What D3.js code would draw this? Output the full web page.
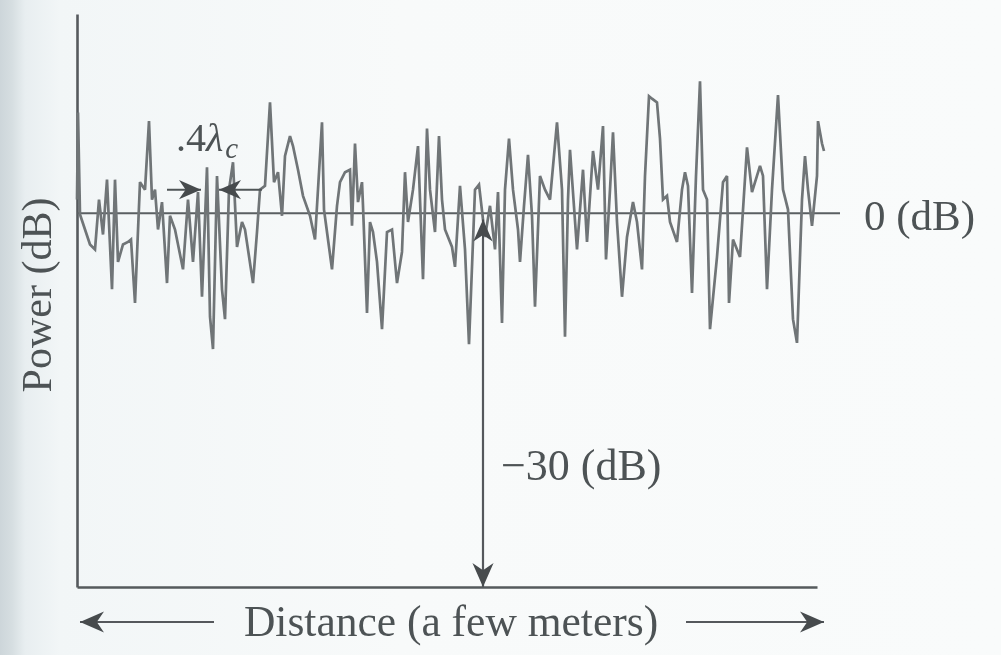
<!DOCTYPE html>
<html>
<head>
<meta charset="utf-8">
<script src="https://cdn.jsdelivr.net/npm/d3@7"></script>
<style>
  html, body { margin: 0; padding: 0; background: #f8fafa; }
  svg { display: block; }
  text { font-family: "Liberation Serif", "DejaVu Serif", serif; fill: #4e5355; }
</style>
</head>
<body>
<svg id="chart"></svg>
<script>
// distance along the route, in cm
const distance = [
  0, 0.5, 1.5, 4, 6.5, 9, 11, 13, 15, 17.5, 19, 20.5, 23, 25.5, 27, 29, 31.5, 34, 36, 37.5,
  39, 40.5, 42.5, 45, 46.5, 49, 53, 55.5, 58, 60.5, 62.5, 65, 66.5, 68, 70, 72.5, 74, 76, 78, 80,
  82.5, 84, 88, 90, 91.5, 94, 96.5, 98.5, 100.5, 102.5, 104, 106.5, 108, 110.5, 113, 116.5, 119, 122.5, 123.5, 127.5,
  130, 131.5, 134, 136.5, 137.5, 139, 140.5, 142.5, 143, 145, 146.5, 148, 150, 152.5, 155, 157.5, 160, 162.5, 164, 165.5,
  168, 170.5, 173, 175, 176.5, 179, 181, 182.5, 184, 185.5, 187.5, 189, 191.5, 194, 196, 199, 201, 204, 206.5, 209,
  210.5, 212.5, 214, 216, 218, 220.5, 221.5, 223.5, 225.5, 227.5, 229, 231.5, 234, 236.5, 240, 242.5, 244, 245.5, 246.5, 250,
  253, 255, 258, 260.5, 263, 264.5, 266.5, 268, 270, 272.5, 275, 278, 280, 282.5, 284, 286, 287.5, 290, 291.5, 293,
  295, 296.5, 300, 302.5, 304, 305.5, 307.5, 309.5, 311.5, 313, 315, 316.5, 320, 323, 325, 326, 328, 331.5, 335, 337.5,
  341.5, 343, 345, 347.5, 350.5, 353, 355.5, 358, 360, 362.5, 364, 365.5, 367.5, 370, 370.5, 372.5, 373.5
];

// received power relative to the mean, in dB
const powerDb = [
  1.1, 8.1, -0.1, -1.3, -2.5, -2.9, 1.1, -1.7, 2.7, -6.1, 2.7, -3.9, -2.5, -2.3, -2.1, -7.2, 2.5, 1.9, 7.4, 1.1,
  1.9, -1.3, 0.9, -5.6, -0.2, -1.3, -4.5, 1.1, -3.9, 1.7, -6.7, 3.7, -8.3, -10.9, 3.0, -6.1, -8.5, 1.9, 4.1, -2.7,
  -0.7, -1.3, -5.6, -1.5, 1.9, 2.2, 8.9, 2.5, 3.3, -0.2, 4.6, 6.2, 5.4, 3.5, 1.4, -0.2, -2.1, 7.3, 0.3, -4.5,
  0.6, 2.5, 3.3, 3.5, -1.0, 5.6, 0.9, 2.5, 0.6, -8.0, -0.7, -1.5, -3.9, -9.3, -1.5, -1.3, -5.6, -3.1, 3.3, -0.7,
  1.9, 5.4, -5.3, 6.8, 1.9, -1.5, 6.2, 1.1, -1.3, -1.9, -2.7, -4.3, 2.2, -2.9, -10.5, 1.9, 2.3, -1.9, 0.6, -2.9,
  1.7, -8.8, 1.9, 6.0, 1.9, -1.3, -3.9, 0.6, 4.7, -0.2, -7.5, 3.0, 1.9, 1.1, 7.3, 1.9, -9.9, 1.1, 5.1, -2.9,
  3.5, -2.3, 5.0, 1.9, 7.0, -3.7, 1.9, 6.5, -0.7, -6.7, -1.9, 0.9, -0.7, -4.5, 3.0, 9.4, 9.2, 8.9, 6.0, 1.1,
  1.4, -0.7, -2.3, 1.9, 3.3, 2.2, -6.4, 3.0, 10.6, 1.9, 1.1, -9.3, -3.5, 2.5, 3.0, -7.2, -2.1, -3.5, 5.3, 1.7,
  3.8, 3.0, -6.1, 1.9, 9.5, 1.9, 0.3, -8.5, -10.4, 1.1, 4.6, 1.9, -1.0, 3.0, 7.4, 5.6, 5.0
];

const xDomain = [0, 370];      // x axis extent, cm
const yDomain = [-30, 16];     // y axis extent, dB
const zeroLineEnd = 381.5;     // where the 0 dB reference line stops
const spacingMarks = [45, 62, 71, 92.5];  // .4 lambda_c indicator (cm)
const spacingLevel = 1.9;      // dB
const fadeAt = 203;            // position of the -30 dB arrow (cm)

const W = 1001, H = 655;
const margin = { top: 14, right: 184, bottom: 68, left: 77 };

const svg = d3.select("#chart").attr("width", W).attr("height", H);

// page background with the shaded gutter at the left
const defs = svg.append("defs");
const grad = defs.append("linearGradient").attr("id", "page").attr("x1", 0).attr("x2", 1);
[[0, "#cdd6da"], [0.012, "#d6dee1"], [0.025, "#e8eef0"], [0.06, "#f2f6f7"], [0.4, "#f8fafa"], [1, "#f9fbfb"]]
  .forEach(([o, c]) => grad.append("stop").attr("offset", o).attr("stop-color", c));
defs.append("filter").attr("id", "soft").append("feGaussianBlur").attr("stdDeviation", 0.5);

function arrowMarker(id, size) {
  defs.append("marker")
    .attr("id", id)
    .attr("viewBox", "0 -5 10 10")
    .attr("refX", 10).attr("refY", 0)
    .attr("markerUnits", "userSpaceOnUse")
    .attr("markerWidth", size).attr("markerHeight", size)
    .attr("orient", "auto")
    .append("path").attr("d", "M0,-4.4L10,0L0,4.4L3,0Z").attr("fill", "#464b4e");
}
arrowMarker("head", 24);
arrowMarker("headSmall", 22);

svg.append("rect").attr("width", W).attr("height", H).attr("fill", "url(#page)");

const x = d3.scaleLinear().domain(xDomain).range([margin.left, W - margin.right]);
const y = d3.scaleLinear().domain(yDomain).range([H - margin.bottom, margin.top]);

const g = svg.append("g").attr("filter", "url(#soft)");

// axes: plain lines only, no ticks
g.append("g")
  .attr("transform", `translate(0,${y(yDomain[0])})`)
  .call(d3.axisBottom(x).ticks(0).tickSize(0).tickSizeOuter(0))
  .call(a => a.select(".domain").attr("stroke", "#555a5d").attr("stroke-width", 2.4));

g.append("g")
  .attr("transform", `translate(${x(0)},0)`)
  .call(d3.axisLeft(y).ticks(0).tickSize(0).tickSizeOuter(0))
  .call(a => a.select(".domain").attr("stroke", "#555a5d").attr("stroke-width", 2.6));

// 0 dB reference
g.append("line")
  .attr("x1", x(0)).attr("x2", x(zeroLineEnd))
  .attr("y1", y(0)).attr("y2", y(0))
  .attr("stroke", "#5a5f62").attr("stroke-width", 2);

// fading signal
const points = distance.map((d, i) => ({ d, p: powerDb[i] }));
const line = d3.line().x(d => x(d.d)).y(d => y(d.p));

g.append("path")
  .datum(points)
  .attr("d", line)
  .attr("fill", "none")
  .attr("stroke", "#6f7477")
  .attr("stroke-width", 2.7)
  .attr("stroke-linejoin", "miter")
  .attr("stroke-miterlimit", 3);

// -30 dB depth arrow (double headed)
g.append("line")
  .attr("x1", x(fadeAt)).attr("x2", x(fadeAt))
  .attr("y1", y(-2.4)).attr("y2", y(-0.5))
  .attr("stroke", "#4a4f52").attr("stroke-width", 2)
  .attr("marker-end", "url(#headSmall)");
g.append("line")
  .attr("x1", x(fadeAt)).attr("x2", x(fadeAt))
  .attr("y1", y(-2)).attr("y2", y(yDomain[0]))
  .attr("stroke", "#55595c").attr("stroke-width", 2.2)
  .attr("marker-end", "url(#head)");

// .4 lambda_c spacing indicator
g.append("line")
  .attr("x1", x(spacingMarks[0])).attr("x2", x(spacingMarks[1]))
  .attr("y1", y(spacingLevel)).attr("y2", y(spacingLevel))
  .attr("stroke", "#4f5457").attr("stroke-width", 2)
  .attr("marker-end", "url(#headSmall)");
g.append("line")
  .attr("x1", x(spacingMarks[3])).attr("x2", x(spacingMarks[2]))
  .attr("y1", y(spacingLevel)).attr("y2", y(spacingLevel))
  .attr("stroke", "#4f5457").attr("stroke-width", 2)
  .attr("marker-end", "url(#headSmall)");

// labels
const lab = svg.append("g").attr("filter", "url(#soft)");

const lam = lab.append("text")
  .attr("x", 176).attr("y", 151)
  .attr("font-size", 40);
lam.append("tspan").text(".4");
lam.append("tspan").attr("font-style", "italic").text("λ");
lam.append("tspan").attr("font-style", "italic").attr("font-size", 29).attr("dy", 7).attr("dx", 2).text("c");

lab.append("text")
  .attr("x", 864).attr("y", 230)
  .attr("font-size", 43)
  .text("0 (dB)");

lab.append("text")
  .attr("x", 501).attr("y", 480)
  .attr("font-size", 44)
  .text("\u221230 (dB)");

lab.append("text")
  .attr("transform", "translate(51,295) rotate(-90)")
  .attr("text-anchor", "middle")
  .attr("font-size", 42)
  .text("Power (dB)");

lab.append("text")
  .attr("x", 451).attr("y", 636)
  .attr("text-anchor", "middle")
  .attr("font-size", 43.5)
  .text("Distance (a few meters)");

// direction arrows under the axis title
lab.append("line")
  .attr("x1", 214).attr("x2", 80).attr("y1", 622).attr("y2", 622)
  .attr("stroke", "#55595c").attr("stroke-width", 2)
  .attr("marker-end", "url(#head)");
lab.append("line")
  .attr("x1", 686).attr("x2", 824).attr("y1", 622).attr("y2", 622)
  .attr("stroke", "#55595c").attr("stroke-width", 2)
  .attr("marker-end", "url(#head)");
</script>
</body>
</html>
